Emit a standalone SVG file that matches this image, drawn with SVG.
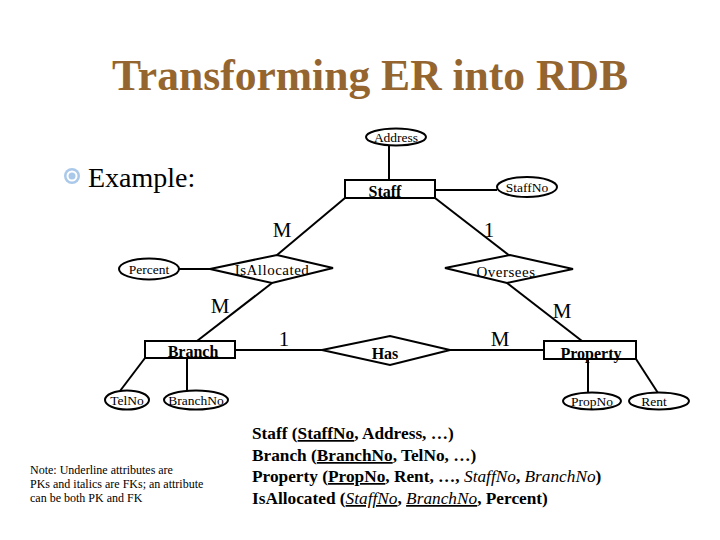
<svg xmlns="http://www.w3.org/2000/svg" width="720" height="540" viewBox="0 0 720 540">
<style>
  .ln{stroke:#000;stroke-width:2;fill:none}
  .shape{fill:#fff;stroke:#000;stroke-width:2}
  .attr{fill:#fff;stroke:#000;stroke-width:2}
  .t{font-family:"Liberation Serif","Times New Roman",serif;fill:#000}
  .attrt{font-size:13.5px;text-anchor:middle}
  .ent{font-size:16px;font-weight:bold;text-anchor:middle}
  .rel{font-size:15px;text-anchor:middle;letter-spacing:0.5px}
  .card{font-size:21px;text-anchor:middle}
  .schema{font-size:17.3px;font-weight:bold}
  .note{font-size:12px}
</style>
<rect width="720" height="540" fill="#fff"/>
<text x="370" y="90" class="t" font-size="44" font-weight="bold" style="fill:#94652F" text-anchor="middle" textLength="516" lengthAdjust="spacingAndGlyphs">Transforming ER into RDB</text>
<g id="bullet">
  <circle cx="72" cy="176" r="8" fill="#a9c8ea"/>
  <circle cx="72" cy="176" r="5.5" fill="#fff"/>
  <circle cx="72" cy="176" r="3.5" fill="#a9c8ea"/>
</g>
<text x="88" y="187" class="t" font-size="28">Example:</text>
<g id="connectors">
  <line class="ln" x1="389" y1="145" x2="389" y2="180"/>
  <line class="ln" x1="435" y1="190" x2="497" y2="190"/>
  <line class="ln" x1="345" y1="198" x2="277" y2="255"/>
  <line class="ln" x1="435" y1="198" x2="510" y2="256"/>
  <line class="ln" x1="179" y1="269" x2="210" y2="269"/>
  <line class="ln" x1="272" y1="283" x2="197" y2="341"/>
  <line class="ln" x1="507" y1="283" x2="582" y2="341"/>
  <line class="ln" x1="235" y1="350" x2="322" y2="350"/>
  <line class="ln" x1="450" y1="350" x2="544" y2="350"/>
  <line class="ln" x1="145" y1="358" x2="120" y2="391"/>
  <line class="ln" x1="187" y1="358" x2="187" y2="390"/>
  <line class="ln" x1="588" y1="359" x2="588" y2="393"/>
  <line class="ln" x1="636" y1="359" x2="658" y2="393"/>
</g>
<g id="Address"><ellipse class="attr" cx="396" cy="137" rx="30" ry="8.5"/><text x="396" y="141.5" class="t attrt">Address</text></g>
<g id="StaffNo"><ellipse class="attr" cx="527" cy="187" rx="30" ry="10"/><text x="527" y="191.5" class="t attrt">StaffNo</text></g>
<g id="Staff"><rect class="shape" x="345" y="180" width="90" height="18"/><text x="385" y="197" class="t ent">Staff</text></g>
<g id="Percent"><ellipse class="attr" cx="149" cy="269" rx="30" ry="10.5"/><text x="149" y="273.5" class="t attrt">Percent</text></g>
<g id="IsAllocated"><polygon class="shape" points="210,269 277,255 333,268 272,283"/><text x="272" y="275" class="t rel">IsAllocated</text></g>
<g id="Oversees"><polygon class="shape" points="445,268 510,255 573,269 507,283"/><text x="506" y="277" class="t rel">Oversees</text></g>
<g id="Branch"><rect class="shape" x="145" y="341" width="90" height="17"/><text x="193" y="357" class="t ent">Branch</text></g>
<g id="Has"><polygon class="shape" points="322,350 390,336 450,350 390,365"/><text x="385" y="359" class="t ent">Has</text></g>
<g id="Property"><rect class="shape" x="544" y="341" width="92" height="18"/><text x="591" y="359" class="t ent">Property</text></g>
<g id="TelNo"><ellipse class="attr" cx="127" cy="400" rx="22" ry="9.5"/><text x="127" y="404.5" class="t attrt">TelNo</text></g>
<g id="BranchNo"><ellipse class="attr" cx="196" cy="400" rx="32" ry="9.5"/><text x="196" y="404.5" class="t attrt">BranchNo</text></g>
<g id="PropNo"><ellipse class="attr" cx="592" cy="401" rx="29" ry="8.5"/><text x="592" y="405.5" class="t attrt">PropNo</text></g>
<g id="Rent"><ellipse class="attr" cx="659" cy="401" rx="30" ry="8.5"/><text x="654" y="405.5" class="t attrt">Rent</text></g>
<g id="cardinalities">
  <text x="282" y="237" class="t card">M</text>
  <text x="489" y="237" class="t card">1</text>
  <text x="220" y="313" class="t card">M</text>
  <text x="562" y="318" class="t card">M</text>
  <text x="284" y="346" class="t card">1</text>
  <text x="500" y="346" class="t card">M</text>
</g>
<g id="schema" class="t schema">
  <text x="252" y="439">Staff (<tspan text-decoration="underline">StaffNo</tspan>, Address, …)</text>
  <text x="252" y="461">Branch (<tspan text-decoration="underline">BranchNo</tspan>, TelNo, …)</text>
  <text x="252" y="482">Property (<tspan text-decoration="underline">PropNo</tspan>, Rent, …, <tspan font-style="italic" font-weight="normal">StaffNo</tspan>, <tspan font-style="italic" font-weight="normal">BranchNo</tspan>)</text>
  <text x="252" y="504">IsAllocated (<tspan font-style="italic" font-weight="normal" text-decoration="underline">StaffNo</tspan>, <tspan font-style="italic" font-weight="normal" text-decoration="underline">BranchNo</tspan>, Percent)</text>
</g>
<g id="note" class="t note">
  <text x="30" y="474">Note: Underline attributes are</text>
  <text x="30" y="488">PKs and italics are FKs; an attribute</text>
  <text x="30" y="502">can be both PK and FK</text>
</g>
</svg>
